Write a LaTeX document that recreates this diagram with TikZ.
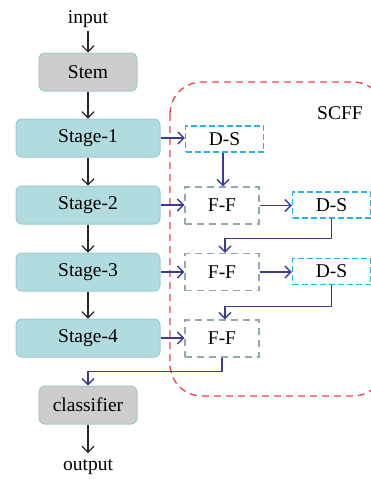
\documentclass[tikz,border=0pt]{standalone}
\usepackage{fontspec}
\setmainfont{Liberation Serif}
\usetikzlibrary{arrows.meta}
\definecolor{stagefill}{HTML}{B1DCDF}
\definecolor{stageline}{HTML}{9EC9CD}
\definecolor{grayfill}{HTML}{CDCDCD}
\definecolor{scffred}{HTML}{E8434B}
\definecolor{dscyan}{HTML}{2AB4E6}
\definecolor{ffgray}{HTML}{8FAAAF}
\definecolor{flowblue}{HTML}{3C3C96}
\tikzset{
  lbl/.style={font=\fontsize{19.5}{22}\selectfont, inner sep=0pt},
  stagebox/.style={lbl, draw=stageline, fill=stagefill, rounded corners=6pt, minimum width=144pt, minimum height=38pt, line width=1pt},
  graybox/.style={lbl, draw=stageline, fill=grayfill, rounded corners=6pt, minimum width=98pt, minimum height=38pt, line width=1pt},
  dsbox/.style={lbl, draw=dscyan, dash pattern=on 6pt off 3pt, line width=1.4pt, minimum width=78pt, minimum height=26pt},
  ffbox/.style={lbl, draw=ffgray, dash pattern=on 7pt off 5pt, line width=1.4pt, minimum width=74pt, minimum height=37pt},
  blk/.style={draw=black!85, line width=1.2pt, -{Straight Barb[length=6pt,width=12pt]}},
  blu/.style={draw=flowblue, line width=1.4pt, -{Straight Barb[length=6pt,width=12pt]}},
}
\begin{document}
\begin{tikzpicture}[x=1pt,y=-1pt]
\useasboundingbox (0,0) rectangle (371,479);
\clip (0,0) rectangle (371,479);
\draw[scffred, dash pattern=on 7pt off 5pt, line width=1.3pt, rounded corners=32pt] (170,82) rectangle (385,396);
\node[lbl] (scff) at (340,113) {SCFF};
\node[lbl] (input) at (88,19) {input};
\node[graybox] (stem) at (88,72) {Stem};
\node[stagebox] (s1) at (88,138) {Stage-1};
\node[stagebox] (s2) at (88,205) {Stage-2};
\node[stagebox] (s3) at (88,272) {Stage-3};
\node[stagebox] (s4) at (88,338) {Stage-4};
\node[graybox] (cls) at (88,405) {classifier};
\node[lbl] (output) at (88,467) {output};
\node[dsbox] (ds1) at (224.5,139) {D-S};
\node[ffbox] (ff1) at (222,205.5) {F-F};
\node[dsbox] (ds2) at (331.5,205) {D-S};
\node[ffbox] (ff2) at (222,272) {F-F};
\node[dsbox] (ds3) at (331.5,271.5) {D-S};
\node[ffbox] (ff3) at (222,338.5) {F-F};
\coordinate (instart) at (88,31);
\coordinate (outend) at (88,453);
\draw[blk] (instart) -- (stem.north);
\draw[blk] (stem) -- (s1);
\draw[blk] (s1) -- (s2);
\draw[blk] (s2) -- (s3);
\draw[blk] (s3) -- (s4);
\draw[blk] (cls.south) -- (outend);
\draw[blu] (s1.east) -- (s1.east -| ds1.west);
\draw[blu] (s2.east) -- (s2.east -| ff1.west);
\draw[blu] (s3.east) -- (s3.east -| ff2.west);
\draw[blu] (s4.east) -- (s4.east -| ff3.west);
\draw[blu] ([xshift=1pt]ds1.south -| ff1.north) -- ([xshift=1pt]ff1.north);
\draw[blu] (ff1.east) -- (ff1.east -| ds2.west);
\draw[blu] (ff2.east) -- (ff2.east -| ds3.west);
\draw[blu] (ds2.south) -- ++(0,20) -| ([xshift=3pt]ff2.north);
\draw[blu] (ds3.south) -- ++(0,21) -| ([xshift=3pt]ff3.north);
\draw[blu] (ff3.south) -- ++(0,14) -| (cls.north);
\end{tikzpicture}
\end{document}
